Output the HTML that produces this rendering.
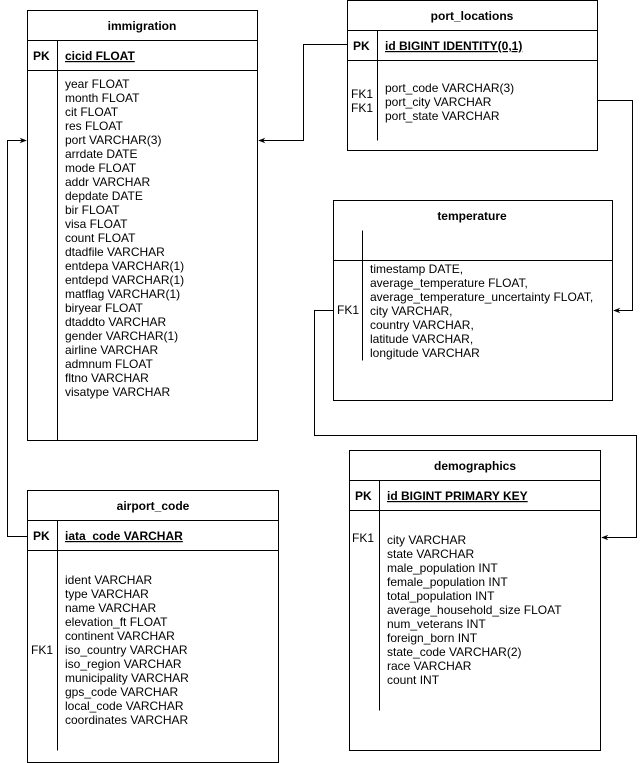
<!DOCTYPE html>
<html><head><meta charset="utf-8"><style>
html,body{margin:0;padding:0;background:#fff;}
svg{display:block;font-family:"Liberation Sans",Arial,sans-serif;font-size:12px;}
.b{font-weight:bold;}
</style></head><body>
<svg width="641" height="763" viewBox="0 0 641 763" xmlns="http://www.w3.org/2000/svg">
<defs><marker id="a" viewBox="0 0 10 10" refX="9" refY="5" markerWidth="7" markerHeight="7" orient="auto"><path d="M0,1 L10,5 L0,9 L3,5 z" fill="#000"/></marker></defs>
<g fill="none" stroke="#000" stroke-width="1">
<!-- immigration -->
<rect x="27.5" y="10.5" width="230" height="430"/>
<line x1="27.5" y1="40.5" x2="257.5" y2="40.5"/>
<line x1="27.5" y1="70.5" x2="257.5" y2="70.5"/>
<line x1="57.5" y1="40.5" x2="57.5" y2="440.5"/>
<!-- port_locations -->
<rect x="347.5" y="0.5" width="250" height="150"/>
<line x1="347.5" y1="30.5" x2="597.5" y2="30.5"/>
<line x1="347.5" y1="60.5" x2="597.5" y2="60.5"/>
<line x1="377.5" y1="30.5" x2="377.5" y2="140.5"/>
<!-- temperature -->
<rect x="333.5" y="200.5" width="279" height="200"/>
<line x1="333.5" y1="260.5" x2="612.5" y2="260.5"/>
<line x1="362.5" y1="230.5" x2="362.5" y2="360.5"/>
<!-- demographics -->
<rect x="349.5" y="450.5" width="251" height="300"/>
<line x1="349.5" y1="480.5" x2="600.5" y2="480.5"/>
<line x1="349.5" y1="510.5" x2="600.5" y2="510.5"/>
<line x1="379.5" y1="480.5" x2="379.5" y2="710.5"/>
<!-- airport_code -->
<rect x="27.5" y="490.5" width="251" height="272"/>
<line x1="27.5" y1="520.5" x2="278.5" y2="520.5"/>
<line x1="27.5" y1="550.5" x2="278.5" y2="550.5"/>
<line x1="57.5" y1="520.5" x2="57.5" y2="750.5"/>
<!-- connectors -->
<path d="M347.5,44.5 H303.5 V140.5 H259" marker-end="url(#a)"/>
<path d="M597.5,100.5 H632.5 V310.5 H614" marker-end="url(#a)"/>
<path d="M333.5,310.5 H314.5 V435.5 H636.5 V537.5 H602" marker-end="url(#a)"/>
<path d="M27.5,536.5 H7.5 V140.5 H26" marker-end="url(#a)"/>
</g>
<g fill="#000">
<text x="142" y="30" class="b" text-anchor="middle">immigration</text>
<text x="33" y="60" class="b">PK</text>
<text x="65" y="60" class="b" text-decoration="underline">cicid FLOAT</text>
<text x="65" y="88">
<tspan x="65" dy="0">year FLOAT</tspan><tspan x="65" dy="14">month FLOAT</tspan><tspan x="65" dy="14">cit FLOAT</tspan><tspan x="65" dy="14">res FLOAT</tspan><tspan x="65" dy="14">port VARCHAR(3)</tspan><tspan x="65" dy="14">arrdate DATE</tspan><tspan x="65" dy="14">mode FLOAT</tspan><tspan x="65" dy="14">addr VARCHAR</tspan><tspan x="65" dy="14">depdate DATE</tspan><tspan x="65" dy="14">bir FLOAT</tspan><tspan x="65" dy="14">visa FLOAT</tspan><tspan x="65" dy="14">count FLOAT</tspan><tspan x="65" dy="14">dtadfile VARCHAR</tspan><tspan x="65" dy="14">entdepa VARCHAR(1)</tspan><tspan x="65" dy="14">entdepd VARCHAR(1)</tspan><tspan x="65" dy="14">matflag VARCHAR(1)</tspan><tspan x="65" dy="14">biryear FLOAT</tspan><tspan x="65" dy="14">dtaddto VARCHAR</tspan><tspan x="65" dy="14">gender VARCHAR(1)</tspan><tspan x="65" dy="14">airline VARCHAR</tspan><tspan x="65" dy="14">admnum FLOAT</tspan><tspan x="65" dy="14">fltno VARCHAR</tspan><tspan x="65" dy="14">visatype VARCHAR</tspan>
</text>

<text x="472" y="20" class="b" text-anchor="middle">port_locations</text>
<text x="353" y="50" class="b">PK</text>
<text x="385" y="50" class="b" text-decoration="underline">id BIGINT IDENTITY(0,1)</text>
<text x="351" y="98">FK1</text><text x="351" y="112">FK1</text>
<text x="385" y="92">port_code VARCHAR(3)</text>
<text x="385" y="106">port_city VARCHAR</text>
<text x="385" y="120">port_state VARCHAR</text>

<text x="472" y="220" class="b" text-anchor="middle">temperature</text>
<text x="337" y="314">FK1</text>
<text x="370" y="273">
<tspan x="370" dy="0">timestamp DATE,</tspan><tspan x="370" dy="14">average_temperature FLOAT,</tspan><tspan x="370" dy="14">average_temperature_uncertainty FLOAT,</tspan><tspan x="370" dy="14">city VARCHAR,</tspan><tspan x="370" dy="14">country VARCHAR,</tspan><tspan x="370" dy="14">latitude VARCHAR,</tspan><tspan x="370" dy="14">longitude VARCHAR</tspan>
</text>

<text x="475" y="470" class="b" text-anchor="middle">demographics</text>
<text x="355" y="500" class="b">PK</text>
<text x="387" y="500" class="b" text-decoration="underline">id BIGINT PRIMARY KEY</text>
<text x="352" y="542">FK1</text>
<text x="387" y="544">
<tspan x="387" dy="0">city VARCHAR</tspan><tspan x="387" dy="14">state VARCHAR</tspan><tspan x="387" dy="14">male_population INT</tspan><tspan x="387" dy="14">female_population INT</tspan><tspan x="387" dy="14">total_population INT</tspan><tspan x="387" dy="14">average_household_size FLOAT</tspan><tspan x="387" dy="14">num_veterans INT</tspan><tspan x="387" dy="14">foreign_born INT</tspan><tspan x="387" dy="14">state_code VARCHAR(2)</tspan><tspan x="387" dy="14">race VARCHAR</tspan><tspan x="387" dy="14">count INT</tspan>
</text>

<text x="153" y="510" class="b" text-anchor="middle">airport_code</text>
<text x="33" y="540" class="b">PK</text>
<text x="65" y="540" class="b" text-decoration="underline">iata_code VARCHAR </text>
<text x="31" y="654">FK1</text>
<text x="65" y="584">
<tspan x="65" dy="0">ident VARCHAR</tspan><tspan x="65" dy="14">type VARCHAR</tspan><tspan x="65" dy="14">name VARCHAR</tspan><tspan x="65" dy="14">elevation_ft FLOAT</tspan><tspan x="65" dy="14">continent VARCHAR</tspan><tspan x="65" dy="14">iso_country VARCHAR</tspan><tspan x="65" dy="14">iso_region VARCHAR</tspan><tspan x="65" dy="14">municipality VARCHAR</tspan><tspan x="65" dy="14">gps_code VARCHAR</tspan><tspan x="65" dy="14">local_code VARCHAR</tspan><tspan x="65" dy="14">coordinates VARCHAR</tspan>
</text>
</g>
</svg>
</body></html>
